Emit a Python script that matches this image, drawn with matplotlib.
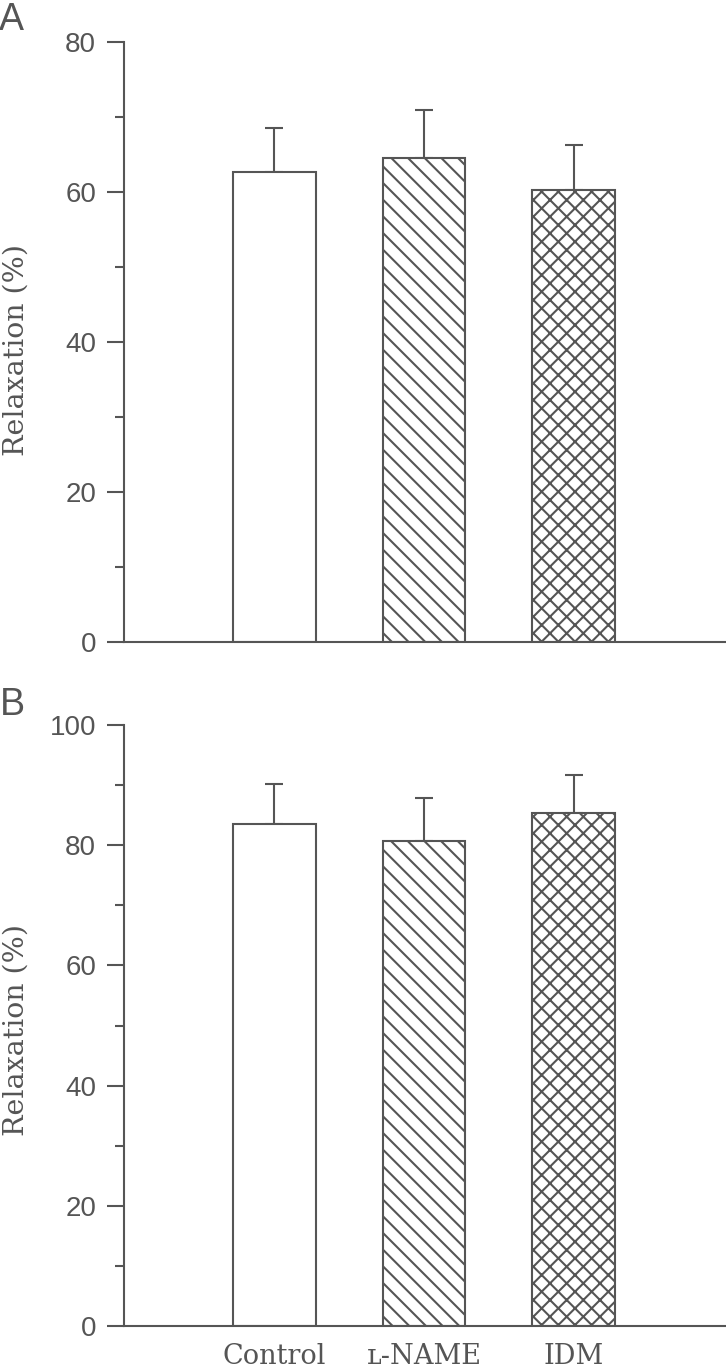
import numpy as np
import matplotlib.pyplot as plt
import matplotlib.ticker as mticker

# --- data ---
groups = ["Control", "ʟ-NAME", "IDM"]
hatches = ["", "\\\\", "xx"]

relax_a = [62.7, 64.5, 60.3]
err_a = [5.8, 6.4, 6.0]

relax_b = [83.5, 80.7, 85.4]
err_b = [6.7, 7.2, 6.3]

GRAY = "#555555"
plt.rcParams["hatch.linewidth"] = 1.5
plt.rcParams["hatch.color"] = GRAY

fig = plt.figure(figsize=(7.26, 13.7), dpi=100)
ax_a = fig.add_axes([0.1708, 0.5314, 0.8292, 0.4380])
ax_b = fig.add_axes([0.1708, 0.0321, 0.8292, 0.4387])

# (axes, values, errors, y max, letter, letter baseline, label centre)
panels = [
    (ax_a, relax_a, err_a, 80, "A", 1.02, 0.487),
    (ax_b, relax_b, err_b, 100, "B", 1.0166, 0.4925),
]

x = np.arange(len(groups))
for ax, vals, errs, ymax, letter, let_y, lab_y in panels:
    for i in range(len(groups)):
        ax.bar(x[i], vals[i], width=0.553, color="white", edgecolor=GRAY,
               linewidth=1.5, hatch=hatches[i], zorder=2)
    ax.errorbar(x, vals, yerr=[np.zeros(len(vals)), errs], fmt="none",
                ecolor=GRAY, elinewidth=1.5, capsize=6.5, capthick=1.5, zorder=1)

    ax.set_xlim(-1.003, 3.017)
    ax.set_ylim(0, ymax)
    ax.yaxis.set_major_locator(mticker.MultipleLocator(20))
    ax.yaxis.set_minor_locator(mticker.MultipleLocator(10))
    ax.tick_params(axis="y", which="major", length=12, width=1.5, color=GRAY,
                   labelsize=20, labelcolor=GRAY, pad=8)
    ax.tick_params(axis="y", which="minor", length=6.5, width=1.5, color=GRAY)
    for lab in ax.get_yticklabels():
        lab.set_family("Liberation Sans")

    for side in ["top", "right"]:
        ax.spines[side].set_visible(False)
    for side in ["left", "bottom"]:
        ax.spines[side].set_color(GRAY)
        ax.spines[side].set_linewidth(1.5)

    ax.set_ylabel("Relaxation (%)", family="DejaVu Serif", fontsize=20.5, color=GRAY)
    ax.yaxis.set_label_coords(-0.156, lab_y)

    ax.text(-0.207, let_y, letter, transform=ax.transAxes, family="Liberation Sans",
            fontsize=27, color=GRAY, ha="left", va="baseline")

ax_a.set_xticks([])
ax_b.set_xticks(x)
ax_b.set_xticklabels(groups, family=["DejaVu Serif", "DejaVu Sans"], fontsize=19.5,
                     color=GRAY)
ax_b.tick_params(axis="x", length=0, pad=12)

fig.savefig("out.png", dpi=100)
